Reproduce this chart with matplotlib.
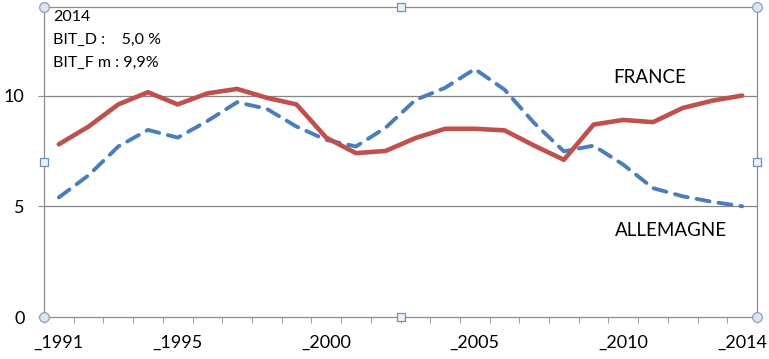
import matplotlib
matplotlib.use("Agg")
import matplotlib.pyplot as plt
import numpy as np

years = list(range(1991, 2015))
france = [7.8, 8.6, 9.6, 10.15, 9.6, 10.1, 10.3, 9.9, 9.6, 8.1, 7.4, 7.5,
          8.08, 8.5, 8.5, 8.43, 7.74, 7.1, 8.69, 8.9, 8.8, 9.44, 9.77, 10.0]
allemagne = [5.4, 6.4, 7.7, 8.45, 8.1, 8.85, 9.7, 9.4, 8.6, 8.0, 7.7, 8.55,
             9.8, 10.35, 11.2, 10.27, 8.76, 7.48, 7.74, 6.88, 5.82, 5.45, 5.2, 5.0]
label_years = [1991, 1995, 2000, 2005, 2010, 2014]
y_ticks = [0, 5, 10]
info_text = "2014\nBIT_D :    5,0 %\nBIT_F m : 9,9%"

plt.rcParams['font.family'] = ['Lato', 'DejaVu Sans']

fig = plt.figure(figsize=(7.69, 3.59), dpi=100)
ax = fig.add_axes([44/769, 1-317/359, (757-44)/769, (317-7)/359])

ax.set_xlim(1990.5, 2014.5)
ax.set_ylim(0, 14)

for v in [5, 10]:
    ax.axhline(v, color='#868686', lw=0.9, zorder=1)

ax.plot(years, allemagne, color='#4A7EBB', lw=2.8, dashes=(3.4, 2.3),
        dash_capstyle='round', solid_capstyle='round', zorder=3)
ax.plot(years, france, color='#C0504D', lw=3.3, solid_capstyle='round',
        solid_joinstyle='round', zorder=4)

for s in ['left', 'bottom', 'right', 'top']:
    ax.spines[s].set_color('#8C8C8C')
    ax.spines[s].set_linewidth(0.9)

ax.set_xticks(label_years)
ax.set_xticklabels(['_' + str(y) for y in label_years])
ax.set_xticks(np.arange(1990.5, 2015, 1.0), minor=True)
ax.tick_params(axis='x', which='major', length=0, pad=13, labelsize=13)
ax.tick_params(axis='x', which='minor', length=4, color='#8C8C8C', direction='out')
ax.set_yticks(y_ticks)
ax.tick_params(axis='y', which='major', length=4, color='#8C8C8C', pad=10, labelsize=13)

ax.text(0.013, 0.99, info_text, transform=ax.transAxes, fontsize=11.5,
        va='top', ha='left', linespacing=1.8)
ax.text(2010.9, 10.8, 'FRANCE', fontsize=13.5, ha='center', va='center')
ax.text(2011.6, 3.9, 'ALLEMAGNE', fontsize=13.5, ha='center', va='center')

# selection handles
for (hx, hy) in [(0, 0), (1, 0), (0, 1), (1, 1)]:
    ax.plot(hx, hy, marker='o', ms=7, mfc='#DCE6F2', mec='#8CA0B8', mew=0.9,
            transform=ax.transAxes, clip_on=False, zorder=6)
for (hx, hy) in [(0.5, 0), (0.5, 1), (0, 0.5), (1, 0.5)]:
    ax.plot(hx, hy, marker='s', ms=5.5, mfc='#EAF2FA', mec='#6F8FB5', mew=0.9,
            transform=ax.transAxes, clip_on=False, zorder=6)

fig.savefig('out.png', dpi=100)
